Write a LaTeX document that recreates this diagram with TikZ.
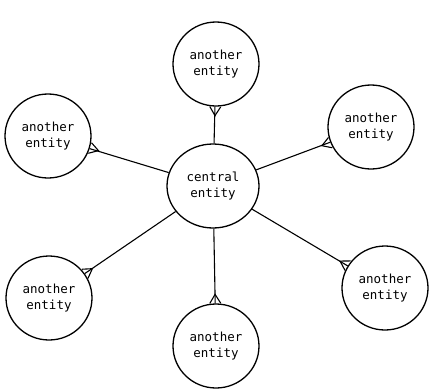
\documentclass[tikz,border=0pt]{standalone}
\usepackage{fontspec}
\setmonofont{DejaVu Sans Mono}
\usepackage{tikz}
\usetikzlibrary{calc,shapes}

\begin{document}
\begin{tikzpicture}[x=1pt,y=-1pt,line width=1.1pt,
  entity/.style={ellipse, draw, line width=1.3pt, minimum width=86pt, minimum height=84pt,
    inner sep=0pt, align=center, font=\ttfamily\fontsize{12.5}{15.5}\selectfont}]
	\useasboundingbox (0,0) rectangle (431,391);
	\node[entity, minimum width=92pt](0) at (213,186) {central\\entity};
	\node[entity](1) at (216,64) {another\\entity};
	\node[entity](2) at (371,127) {another\\entity};
	\node[entity](3) at (385,288) {another\\entity};
	\node[entity](4) at (216,346) {another\\entity};
	\node[entity](5) at (49,298) {another\\entity};
	\node[entity](6) at (48,136) {another\\entity};
	% connectors with crow's foot at the outer entity
	\foreach \i in {1,...,6}{
		\draw (0) -- (\i);
		\draw let \p1=($(0)-(\i)$), \n1={atan2(\y1,\x1)} in
			($(\i.\n1)!5.5pt!90:(0)$) -- ($(\i.\n1)!9pt!(0)$) -- ($(\i.\n1)!5.5pt!-90:(0)$);
	}
\end{tikzpicture}
\end{document}
